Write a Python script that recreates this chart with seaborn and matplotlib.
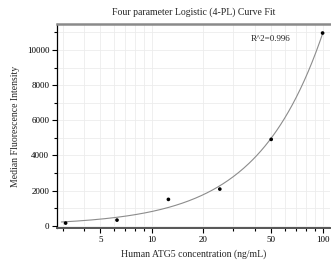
import numpy as np
import pandas as pd
import matplotlib
matplotlib.use("Agg")
import matplotlib.pyplot as plt
from matplotlib.ticker import FixedLocator, FixedFormatter, NullFormatter
import seaborn as sns

# standard concentrations (ng/mL) and measured MFI
conc = [3.125, 6.25, 12.5, 25, 50, 100]
mfi = [154, 324, 1502, 2088, 4916, 10965]
r2_label = "R^2=0.996"

x_major = [5, 10, 20, 50, 100]
x_minor = [3, 4, 6, 7, 8, 9, 30, 40, 60, 70, 80, 90]
y_major = [0, 2000, 4000, 6000, 8000, 10000]
y_minor = [1000, 3000, 5000, 7000, 9000, 11000]


def fit_4pl(x, y):
    # crude grid search over B, C; A and D solved linearly
    x = np.asarray(x, float)
    y = np.asarray(y, float)
    best = None
    for b in np.linspace(0.3, 4, 120):
        for c in np.logspace(0, 4, 200):
            f = 1.0 / (1.0 + (x / c) ** b)
            M = np.column_stack([np.ones_like(f), f])
            coef, *_ = np.linalg.lstsq(M, y, rcond=None)
            err = np.sum((M @ coef - y) ** 2)
            if best is None or err < best[0]:
                best = (err, b, c, coef)
    _, b, c, (d, amd) = best
    return lambda t: d + amd / (1.0 + (t / c) ** b)


model = fit_4pl(conc, mfi)
xs = np.logspace(np.log10(2.95), np.log10(100), 200)
curve = pd.DataFrame({"conc": xs, "mfi": model(xs)})
pts = pd.DataFrame({"conc": conc, "mfi": mfi})

sns.set_style("whitegrid")
plt.rcParams["font.family"] = ["Liberation Serif", "DejaVu Serif"]

fig = plt.figure(figsize=(3.31, 2.64), dpi=100)
ax = fig.add_axes([0.172, 0.136, 0.826, 0.773])

sns.lineplot(data=curve, x="conc", y="mfi", ax=ax, color="#8c8c8c", lw=0.8)
sns.scatterplot(data=pts, x="conc", y="mfi", ax=ax, color="black", s=7,
                edgecolor="none", zorder=5)

ax.set_xscale("log")
ax.set_xlim(2.78, 111)
ax.set_ylim(-131, 11477)

ax.xaxis.set_major_locator(FixedLocator(x_major))
ax.xaxis.set_major_formatter(FixedFormatter([str(v) for v in x_major]))
ax.xaxis.set_minor_locator(FixedLocator(x_minor))
ax.xaxis.set_minor_formatter(NullFormatter())
ax.yaxis.set_major_locator(FixedLocator(y_major))
ax.yaxis.set_minor_locator(FixedLocator(y_minor))

ax.grid(True, which="both", color="#ececec", lw=0.6)
ax.tick_params(which="both", direction="out", length=3.5, width=0.8,
               colors="black", labelsize=6.5, pad=2, bottom=True, left=True)
ax.tick_params(which="minor", length=2.5)

ax.spines["left"].set_color("black")
ax.spines["left"].set_linewidth(0.9)
ax.spines["bottom"].set_color("#555555")
ax.spines["bottom"].set_linewidth(1.4)
ax.spines["top"].set_color("#8a8a8a")
ax.spines["top"].set_linewidth(1.8)
ax.spines["right"].set_visible(False)

ax.set_xlabel("Human ATG5 concentration (ng/mL)", fontsize=7, labelpad=4)
ax.set_ylabel("Median Fluorescence Intensity", fontsize=7, labelpad=5)
ax.set_title("Four parameter Logistic (4-PL) Curve Fit", fontsize=7, pad=7)
ax.text(0.855, 0.945, r2_label, transform=ax.transAxes, fontsize=6.5,
        ha="right", va="top")

fig.savefig("out.png", dpi=100)
